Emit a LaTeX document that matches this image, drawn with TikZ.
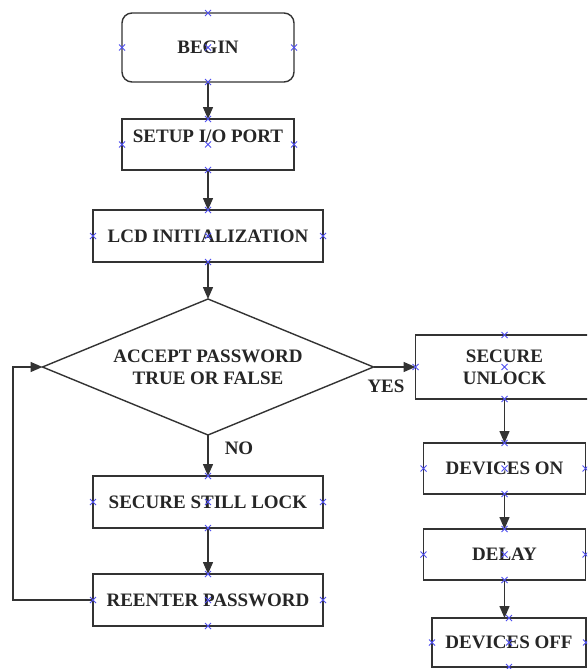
\documentclass[tikz,border=0pt]{standalone}
\usepackage{fontspec}
\setmainfont{Liberation Serif}
\usetikzlibrary{shapes.geometric,arrows.meta}
\definecolor{linec}{gray}{0.2}
\definecolor{markc}{RGB}{80,80,240}
\tikzset{
  txtfont/.style={font=\fontsize{19}{22}\selectfont\bfseries, text=black!85},
  box/.style={draw=linec, line width=1.4pt, inner sep=0pt, outer sep=0pt,
    text height=12.4pt, text depth=0pt, txtfont},
  dec/.style={draw=linec, line width=1.4pt, shape=diamond, inner sep=0pt, outer sep=0pt,
    minimum width=331pt, minimum height=136pt, aspect=2.43, align=center, txtfont},
  lbl/.style={inner sep=0pt, text height=12.4pt, text depth=0pt, txtfont},
  arr/.style={draw=linec, line width=1.4pt, -{Triangle[length=12pt,width=10pt]}},
  mk/.style={draw=markc, line width=0.8pt}
}
\begin{document}
\begin{tikzpicture}[x=1pt,y=-1pt]
\clip (0,0) rectangle (587,669);
\fill[white] (0,0) rectangle (587,669);
% left column
\node[box, rounded corners=10pt, minimum width=172pt, minimum height=69pt] (begin) at (208,47.5) {BEGIN};
\node[box, minimum width=172pt, minimum height=51pt] (setup) at (208,144.5) {};
\node[lbl] (setuptxt) at (208,136) {SETUP I/O PORT};
\node[box, minimum width=230pt, minimum height=52pt] (lcd) at (208,236) {LCD INITIALIZATION};
\node[dec] (dia) at (208,367) {ACCEPT PASSWORD\\TRUE OR FALSE};
\node[box, minimum width=230pt, minimum height=52pt] (still) at (208,502) {SECURE STILL LOCK};
\node[box, minimum width=230pt, minimum height=52pt] (reent) at (208,600) {REENTER PASSWORD};
% right column
\node[box, minimum width=178pt, minimum height=64pt, text height=, text depth=, align=center] (unlock) at (504.5,367) {SECURE\\UNLOCK};
\node[box, minimum width=162pt, minimum height=51pt] (devon) at (504.5,468.5) {DEVICES ON};
\node[box, minimum width=162pt, minimum height=51pt] (delay) at (504.5,554.5) {DELAY};
\node[box, minimum width=154pt, minimum height=49pt] (devoff) at (509,642.5) {DEVICES OFF};
% labels
\node[lbl] (yes) at (386,386.5) {YES};
\node[lbl] (no) at (239,448) {NO};
% connectors
\draw[arr] (begin) -- (setup);
\draw[arr] (setup) -- (lcd);
\draw[arr] (lcd) -- (dia);
\draw[arr] (dia) -- (still);
\draw[arr] (still) -- (reent);
\coordinate (loopc) at (13,600);
\draw[arr] (reent.west) -- (loopc) |- (dia.west);
\draw[arr] (dia.east) -- (unlock.west);
\draw[arr] (unlock) -- (devon);
\draw[arr] (devon) -- (delay);
\draw[arr] (delay.south) -- (delay.south |- devoff.north);
% connection point markers
\foreach \p in {begin.north,begin.south,begin.west,begin.east,begin.center,
  setup.north,setup.south,setup.west,setup.east,setup.center,
  lcd.north,lcd.south,lcd.west,lcd.east,lcd.center,
  still.north,still.south,still.west,still.east,still.center,
  reent.north,reent.south,reent.west,reent.east,reent.center,
  unlock.north,unlock.south,unlock.west,unlock.center,
  devon.north,devon.south,devon.west,devon.east,devon.center,
  delay.north,delay.south,delay.west,delay.east,delay.center,
  devoff.north,devoff.south,devoff.west,devoff.east,devoff.center}
  \draw[mk] (\p) ++(-3,-3) -- ++(6,6) ++(-6,0) -- ++(6,-6);
\end{tikzpicture}
\end{document}
